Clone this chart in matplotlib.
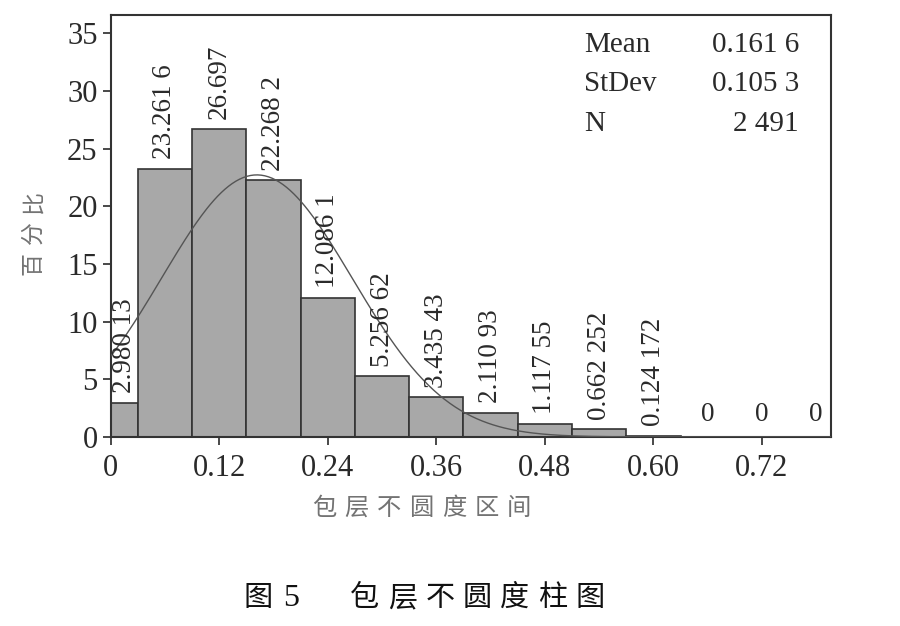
import numpy as np
import matplotlib
matplotlib.use("Agg")
import matplotlib.pyplot as plt

# histogram data (percent per 0.06-wide bin)
bin_centers = [0.0, 0.06, 0.12, 0.18, 0.24, 0.30, 0.36, 0.42, 0.48, 0.54, 0.60, 0.66, 0.72, 0.78]
percents = [2.98013, 23.2616, 26.697, 22.2682, 12.0861, 5.25662, 3.43543,
            2.11093, 1.11755, 0.662252, 0.124172, 0, 0, 0]
bar_labels = ["2.980 13", "23.261 6", "26.697", "22.268 2", "12.086 1", "5.256 62",
              "3.435 43", "2.110 93", "1.117 55", "0.662 252", "0.124 172", "0", "0", "0"]
bin_width = 0.06

mean_val = 0.1616
sd_val = 0.1053
stat_names = ["Mean", "StDev", "N"]
stat_values = ["0.161 6", "0.105 3", "2 491"]

xticks = [0, 0.12, 0.24, 0.36, 0.48, 0.60, 0.72]
xtick_labels = ["0", "0.12", "0.24", "0.36", "0.48", "0.60", "0.72"]
yticks = [0, 5, 10, 15, 20, 25, 30, 35]

xlabel = "包层不圆度区间"
ylabel = "百分比"
caption_head = "图 5"
caption_body = "包层不圆度柱图"

plt.rcParams['font.family'] = ['Liberation Serif', 'Noto Sans CJK SC']
cjk = ['Noto Sans CJK SC', 'DejaVu Sans']

W, H = 900, 626
fig = plt.figure(figsize=(9, 6.26), dpi=100)
ax = fig.add_axes([0.123, 0.302, 0.80, 0.674])

xlim = (0, 0.796)
ax.bar(bin_centers, percents, width=bin_width, color="#a8a8a8",
       edgecolor="#333333", linewidth=1.2, zorder=2)

# fitted normal curve, scaled to percent per bin
xs = np.linspace(0, 0.8, 400)
ys = 100 * bin_width * np.exp(-0.5 * ((xs - mean_val) / sd_val) ** 2) / (sd_val * np.sqrt(2 * np.pi))
ax.plot(xs, ys, color="#555555", linewidth=1.0, zorder=3)

for c, v, lab in zip(bin_centers, percents, bar_labels):
    left = max(c - bin_width / 2, xlim[0])
    lx = (left + c + bin_width / 2) / 2
    rot = 90 if v > 0 else 0
    ax.annotate(lab, (lx, v), xytext=(0, 7), textcoords="offset points",
                rotation=rot, ha="center", va="bottom", fontsize=19.5,
                color="#2a2a2a", zorder=4)

for i, (n, s) in enumerate(zip(stat_names, stat_values)):
    y = 0.929 - i * 0.0935
    ax.text(0.658, y, n, transform=ax.transAxes, fontsize=21, color="#2a2a2a",
            ha="left", va="center")
    ax.text(0.956, y, s, transform=ax.transAxes, fontsize=21, color="#2a2a2a",
            ha="right", va="center")

ax.set_xlim(*xlim)
ax.set_ylim(0, 36.6)
ax.set_xticks(xticks)
ax.set_xticklabels(xtick_labels)
ax.set_yticks(yticks)
ax.tick_params(direction="out", length=6, width=1.2, labelsize=22,
               colors="#2a2a2a")
ax.tick_params(axis="x", pad=6)
for sp in ax.spines.values():
    sp.set_color("#333333")
    sp.set_linewidth(1.5)

# spaced-out CJK labels, one glyph at a time
for i, ch in enumerate(xlabel):
    fig.text((324 + i * 32.5) / W, 1 - 508 / H, ch, fontsize=17.5,
             color="#737373", ha="center", va="center", family=cjk)
for i, ch in enumerate(ylabel):
    fig.text(33 / W, 1 - (264 - i * 31) / H, ch, fontsize=16.5, rotation=90,
             color="#737373", ha="center", va="center", family=cjk)
fig.text(258 / W, 1 - 598 / H, caption_head[0], fontsize=21, color="#111111",
         ha="center", va="center", family=cjk)
fig.text(291 / W, 1 - 598 / H, caption_head[-1], fontsize=23, color="#111111",
         ha="center", va="center")
for i, ch in enumerate(caption_body):
    fig.text((365 + i * 37.5) / W, 1 - 598 / H, ch, fontsize=21,
             color="#111111", ha="center", va="center", family=cjk)

fig.savefig("out.png", dpi=100)
